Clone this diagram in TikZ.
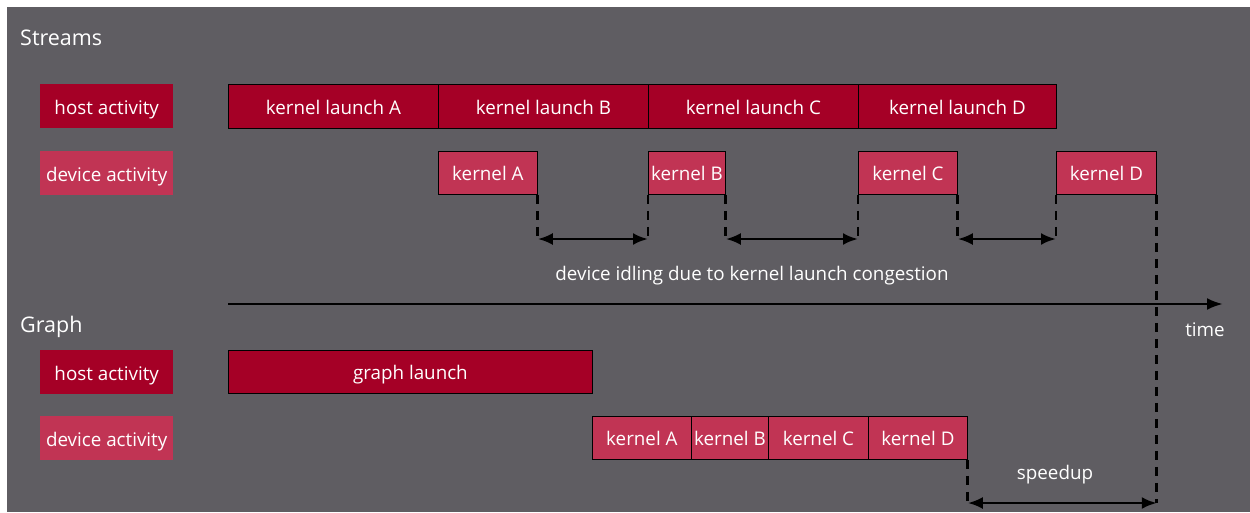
\documentclass[tikz,border=0pt]{standalone}
\usepackage{fontspec}
\setmainfont{Open Sans}
\usetikzlibrary{arrows.meta}
\definecolor{bggray}{HTML}{5F5D62}
\definecolor{hostred}{HTML}{A50026}
\definecolor{devred}{HTML}{C13454}
\tikzset{
  txt/.style={font=\fontsize{18.8}{22}\selectfont, text height=16pt, text depth=0pt},
  lbl/.style={txt, fill=#1, text=white, minimum width=133pt, minimum height=44pt, inner sep=0pt, anchor=north west},
  bar/.style={txt, draw=black, line width=0.8pt, fill=#1, text=white, inner sep=0pt},
  ttl/.style={text=white, anchor=west, inner sep=0pt, font=\fontsize{21.5}{24}\selectfont, text height=18pt, text depth=0pt},
  note/.style={txt, text=white, inner sep=0pt},
  guide/.style={black, line width=2.8pt, dash pattern=on 9pt off 7pt},
  span/.style={black, line width=2.8pt, {Latex[length=15pt,width=12pt]}-{Latex[length=15pt,width=12pt]}},
}
\newcommand{\barbox}[7]{% name, color, x1, y1, x2, y2, text
  \node[bar=#2, minimum width={#5-#3}, minimum height={#6-#4}, anchor=north west] (#1) at (#3,#4) {#7};}
\begin{document}
\begin{tikzpicture}[x=1pt,y=-1pt]
\useasboundingbox (0,0) rectangle (1250,512);
\fill[bggray] (7,7) rectangle (1250,512);
% titles
\node[ttl] (streams) at (20,36) {Streams};
\node[ttl] (graph) at (20,323) {Graph};
% row labels
\node[lbl=hostred] (sh) at (40,84) {host activity};
\node[lbl=devred] (sd) at (40,151) {device activity};
\node[lbl=hostred] (gh) at (40,350) {host activity};
\node[lbl=devred] (gd) at (40,416) {device activity};
% stream host
\barbox{hA}{hostred}{228}{84}{438}{128}{kernel launch A}
\barbox{hB}{hostred}{438}{84}{648}{128}{kernel launch B}
\barbox{hC}{hostred}{648}{84}{858}{128}{kernel launch C}
\barbox{hD}{hostred}{858}{84}{1056}{128}{kernel launch D}
% stream device
\barbox{kA}{devred}{438}{151}{537}{194}{kernel A}
\barbox{kB}{devred}{648}{151}{725}{194}{kernel B}
\barbox{kC}{devred}{858}{151}{957}{194}{kernel C}
\barbox{kD}{devred}{1056}{151}{1156}{194}{kernel D}
% graph
\barbox{gl}{hostred}{228}{350}{592}{393}{graph launch}
\barbox{gA}{devred}{592}{416}{691}{459}{kernel A}
\barbox{gB}{devred}{691}{416}{768}{459}{kernel B}
\barbox{gC}{devred}{768}{416}{868}{459}{kernel C}
\barbox{gD}{devred}{868}{416}{967}{459}{kernel D}
% idle gaps
\coordinate (a1) at (kA.south east |- 0,239);
\coordinate (b0) at (kB.south west |- 0,239);
\coordinate (b1) at (kB.south east |- 0,239);
\coordinate (c0) at (kC.south west |- 0,239);
\coordinate (c1) at (kC.south east |- 0,239);
\coordinate (d0) at (kD.south west |- 0,239);
\draw[guide] (kA.south east) -- (a1);
\draw[guide] (kB.south west) -- (b0);
\draw[guide] (kB.south east) -- (b1);
\draw[guide] (kC.south west) -- (c0);
\draw[guide] (kC.south east) -- (c1);
\draw[guide] (kD.south west) -- (d0);
\draw[span] (a1) -- (b0);
\draw[span] (b1) -- (c0);
\draw[span] (c1) -- (d0);
\node[note] (idle) at (752,272) {device idling due to kernel launch congestion};
% time axis
\coordinate (t0) at (228,304);
\coordinate (t1) at (1223,304);
\draw[black, line width=2.8pt, -{Latex[length=16pt,width=12pt]}] (t0) -- (t1);
\node[note] (time) at (1205,328) {time};
% speedup
\coordinate (s0) at (gD.south east |- 0,503);
\coordinate (s1) at (kD.south east |- 0,503);
\draw[guide] (kD.south east) -- (s1);
\draw[guide] (gD.south east) -- (s0);
\draw[span] (s0) -- (s1);
\node[note] (speed) at (1055,471) {speedup};
\end{tikzpicture}
\end{document}
